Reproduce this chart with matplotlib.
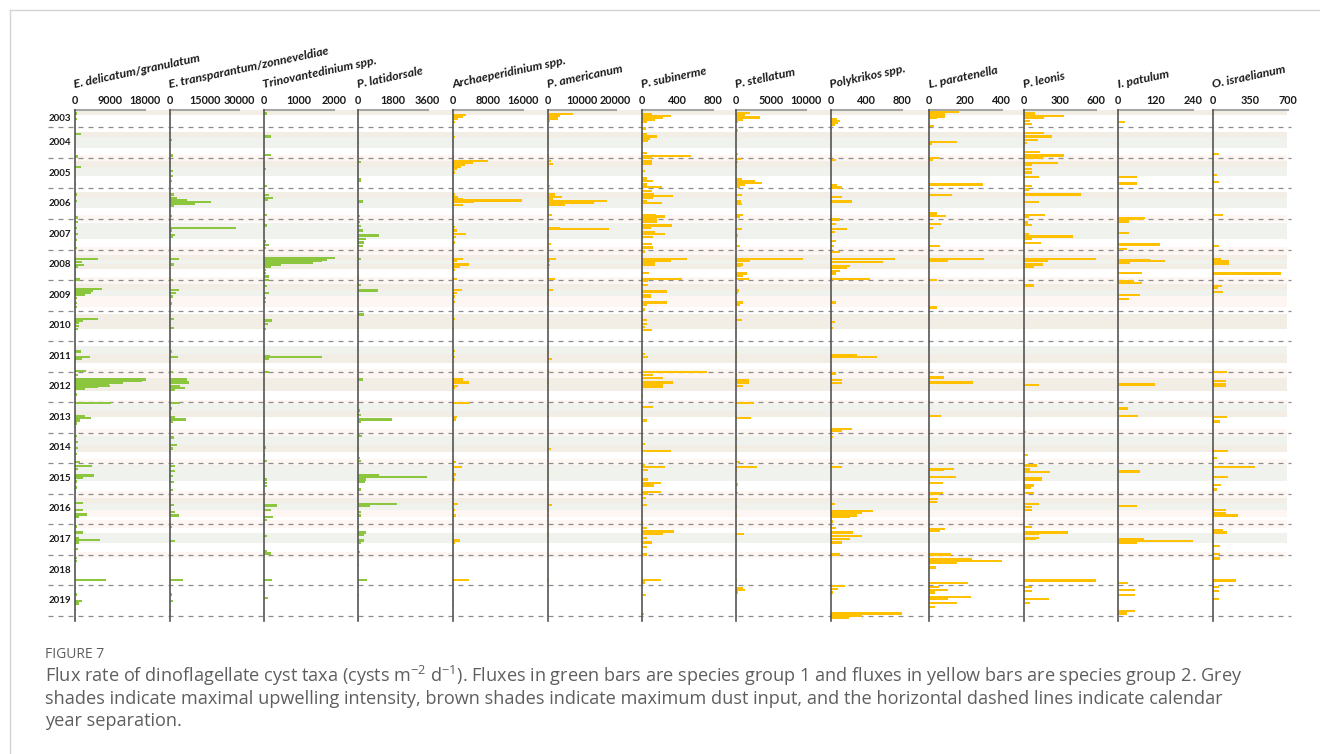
import matplotlib
matplotlib.use("Agg")
import matplotlib.pyplot as plt
from matplotlib.lines import Line2D

plt.rcParams['font.family'] = ['Lato', 'DejaVu Sans']
plt.rcParams['mathtext.fontset'] = 'custom'
plt.rcParams['mathtext.rm'] = 'Open Sans'
plt.rcParams['mathtext.default'] = 'regular'

# ---- data (decimal year, flux) ----
taxa = ["E. delicatum/granulatum", "E. transparantum/zonneveldiae", "Trinovantedinium spp.",
        "P. latidorsale", "Archaeperidinium spp.", "P. americanum", "P. subinerme",
        "P. stellatum", "Polykrikos spp.", "L. paratenella", "P. leonis", "I. patulum",
        "O. israelianum"]
xmax = [18000, 30000, 2000, 3600, 16000, 20000, 800, 10000, 800, 400, 600, 240, 700]
group = [1, 1, 1, 1, 2, 2, 2, 2, 2, 2, 2, 2, 2]

edel = [(2003.54, 500), (2003.72, 400), (2004.21, 1450), (2004.95, 850), (2005.29, 1450), (2005.6, 300),
        (2005.85, 300), (2006.2, 600), (2006.42, 400), (2006.95, 850), (2007.1, 700), (2007.3, 600),
        (2007.5, 700), (2007.7, 500), (2007.95, 600), (2008.3, 6000), (2008.4, 1700), (2008.5, 2300),
        (2008.58, 800), (2008.8, 300), (2008.98, 1300), (2009.3, 7000), (2009.37, 4700), (2009.43, 4000),
        (2009.48, 2600), (2009.6, 600), (2009.75, 500), (2009.88, 400), (2010.27, 5800), (2010.33, 2100),
        (2010.4, 1000), (2010.5, 900), (2010.6, 800), (2011.34, 1450), (2011.51, 3900), (2011.59, 1700),
        (2011.98, 2800), (2012.12, 700), (2012.26, 18250), (2012.31, 17100), (2012.36, 12400),
        (2012.41, 8800), (2012.46, 9000), (2012.51, 6000), (2012.56, 2600), (2012.75, 400),
        (2013.04, 9200), (2013.45, 2600), (2013.51, 4000), (2013.6, 1200), (2013.7, 600), (2014.1, 500),
        (2014.3, 700), (2014.5, 800), (2014.7, 500), (2014.96, 1300), (2015.1, 4300), (2015.2, 800),
        (2015.4, 4900), (2015.47, 2100), (2015.6, 500), (2015.8, 500), (2016.31, 2100), (2016.54, 2100),
        (2016.68, 3200), (2016.76, 900), (2017.07, 500), (2017.27, 2000), (2017.44, 1000),
        (2017.52, 6300), (2017.6, 1100), (2017.82, 700), (2018.1, 500), (2018.2, 400), (2018.83, 8000),
        (2019.1, 300), (2019.3, 400), (2019.51, 1700), (2019.6, 900), (2019.8, 300), (2020.1, 300)]

etra = [(2003.54, 600), (2004.41, 900), (2004.92, 1200), (2005.42, 1500), (2005.59, 1500), (2005.75, 1000),
        (2006.2, 1600), (2006.31, 3000), (2006.37, 7400), (2006.45, 17900), (2006.52, 11000),
        (2006.56, 1600), (2006.9, 800), (2007.3, 28500), (2007.38, 900), (2007.52, 2300), (2007.6, 1300),
        (2008.3, 3900), (2008.49, 1900), (2008.99, 1200), (2009.32, 3900), (2009.43, 2500),
        (2009.54, 1500), (2009.77, 1000), (2010.27, 1600), (2010.57, 1600), (2011.34, 1000),
        (2011.51, 3300), (2012.02, 1300), (2012.26, 7400), (2012.36, 8200), (2012.48, 4500),
        (2012.53, 6400), (2012.59, 2000), (2013.04, 4500), (2013.21, 900), (2013.49, 2300),
        (2013.57, 7100), (2013.66, 1500), (2014.16, 1900), (2014.41, 3000), (2014.52, 1500),
        (2015.1, 2200), (2015.26, 2200), (2015.42, 1300), (2015.62, 1900), (2015.88, 1500),
        (2016.37, 1900), (2016.6, 2300), (2016.71, 3800), (2017.1, 700), (2017.55, 2300), (2017.9, 600),
        (2018.83, 5700), (2019.3, 1000), (2019.51, 1200), (2019.8, 600)]

trin = [(2003.54, 95), (2004.3, 190), (2004.81, 40), (2004.9, 190), (2005.37, 60), (2005.92, 75),
        (2006.22, 140), (2006.31, 245), (2006.37, 120), (2006.88, 95), (2007.21, 75), (2007.74, 60),
        (2007.86, 150), (2007.96, 60), (2008.28, 2020), (2008.33, 1800), (2008.38, 1650), (2008.44, 1400),
        (2008.5, 480), (2008.56, 200), (2008.66, 60), (2008.77, 60), (2008.88, 150), (2008.99, 130),
        (2009.19, 80), (2009.43, 150), (2009.6, 50), (2009.71, 50), (2010.33, 220), (2010.43, 100),
        (2010.6, 50), (2011.48, 170), (2011.53, 1650), (2011.59, 130), (2012.02, 140), (2014.04, 30),
        (2014.49, 60), (2014.74, 40), (2014.93, 80), (2015.53, 95), (2015.64, 80), (2015.75, 80),
        (2016.02, 50), (2016.39, 380), (2016.54, 190), (2016.77, 245), (2016.85, 80), (2017.39, 80),
        (2017.88, 95), (2017.96, 190), (2018.83, 230), (2019.24, 40), (2019.42, 120)]

plat = [(2004.52, 35), (2005.14, 170), (2005.7, 140), (2005.76, 140), (2006.43, 260), (2006.9, 80),
        (2007.1, 120), (2007.23, 170), (2007.38, 250), (2007.54, 1090), (2007.66, 430), (2007.77, 300),
        (2007.88, 260), (2008.32, 170), (2008.47, 50), (2008.88, 50), (2008.99, 50), (2009.16, 170),
        (2009.34, 1040), (2009.6, 50), (2010.04, 50), (2010.13, 290), (2012.26, 260), (2013.27, 80),
        (2013.43, 170), (2013.57, 1780), (2013.66, 170), (2014.04, 80), (2014.1, 200), (2014.52, 50),
        (2014.82, 80), (2014.93, 140), (2015.38, 1090), (2015.45, 3580), (2015.53, 430), (2015.62, 350),
        (2015.86, 170), (2016.33, 2040), (2016.4, 640), (2016.6, 170), (2016.71, 170), (2017.09, 50),
        (2017.27, 400), (2017.35, 310), (2017.53, 290), (2017.6, 170), (2017.9, 80), (2018.34, 50),
        (2018.83, 470), (2019.32, 50), (2020.1, 50)]

arch = [(2003.6, 3050), (2003.66, 2400), (2003.71, 1300), (2003.82, 500), (2004.32, 530), (2004.48, 300),
        (2004.95, 300), (2005.09, 8000), (2005.16, 4700), (2005.22, 2800), (2005.29, 1800), (2005.37, 900),
        (2005.48, 500), (2005.75, 300), (2006.2, 500), (2006.28, 1300), (2006.34, 2300), (2006.39, 15900),
        (2006.45, 4900), (2006.54, 2300), (2006.93, 300), (2007.27, 500), (2007.38, 900), (2007.5, 3050),
        (2007.58, 700), (2007.77, 500), (2008.3, 2400), (2008.38, 900), (2008.49, 3700), (2008.58, 1700),
        (2008.66, 500), (2008.97, 1070), (2009.32, 2050), (2009.43, 900), (2009.54, 500), (2009.71, 500),
        (2010.27, 450), (2010.6, 300), (2011.32, 450), (2011.53, 450), (2012.26, 2300), (2012.36, 3700),
        (2012.48, 1100), (2012.53, 500), (2013.04, 3950), (2013.49, 920), (2013.57, 800), (2014.38, 300),
        (2014.54, 300), (2014.96, 700), (2015.12, 2050), (2015.37, 700), (2015.53, 500), (2016.34, 1300),
        (2016.54, 500), (2016.71, 700), (2017.53, 1680), (2017.6, 500), (2018.83, 3800), (2019.41, 300),
        (2019.51, 300), (2019.67, 200)]

pame = [(2003.57, 7350), (2003.63, 3600), (2003.71, 3100), (2003.79, 700), (2004.32, 300), (2004.54, 300),
        (2004.92, 400), (2005.09, 880), (2005.2, 1650), (2005.31, 500), (2005.64, 300), (2005.92, 600),
        (2006.2, 2150), (2006.27, 4100), (2006.34, 1600), (2006.4, 17500), (2006.47, 13600),
        (2006.54, 5100), (2006.88, 1200), (2007.3, 3600), (2007.33, 18000), (2007.54, 500), (2007.82, 900),
        (2007.96, 500), (2008.3, 2450), (2008.38, 700), (2008.51, 700), (2008.97, 2000), (2009.32, 1500),
        (2009.49, 500), (2009.77, 300), (2011.37, 500), (2011.59, 1200), (2012.02, 700), (2012.36, 300),
        (2013.16, 300), (2013.49, 400), (2014.54, 900), (2015.37, 500), (2015.75, 500), (2016.37, 1200),
        (2016.54, 500), (2016.71, 500), (2017.3, 500), (2018.83, 500)]

psub = [(2003.57, 113), (2003.63, 327), (2003.68, 244), (2003.74, 150), (2003.82, 56), (2004.04, 49),
        (2004.21, 60), (2004.3, 177), (2004.37, 90), (2004.43, 75), (2004.85, 60), (2004.93, 553),
        (2005.0, 113), (2005.09, 113), (2005.18, 113), (2005.42, 38), (2005.67, 60), (2005.76, 124),
        (2005.87, 60), (2005.96, 233), (2006.09, 113), (2006.18, 140), (2006.24, 357), (2006.31, 130),
        (2006.4, 60), (2006.48, 233), (2006.87, 162), (2006.92, 263), (2006.99, 177), (2007.08, 170),
        (2007.21, 338), (2007.3, 100), (2007.43, 150), (2007.49, 267), (2007.6, 132), (2007.82, 113),
        (2007.93, 132), (2008.07, 38), (2008.3, 508), (2008.38, 327), (2008.43, 150), (2008.51, 150),
        (2008.77, 86), (2008.97, 451), (2009.04, 75), (2009.16, 75), (2009.38, 282), (2009.49, 100),
        (2009.54, 100), (2009.74, 282), (2009.82, 60), (2009.97, 38), (2010.32, 60), (2010.43, 60),
        (2010.54, 38), (2010.63, 113), (2011.42, 38), (2011.53, 75), (2012.02, 733), (2012.1, 132),
        (2012.22, 237), (2012.36, 357), (2012.42, 237), (2012.51, 237), (2012.82, 15), (2013.16, 124),
        (2013.6, 64), (2014.38, 38), (2014.6, 327), (2015.08, 38), (2015.12, 263), (2015.23, 75),
        (2015.53, 75), (2015.66, 215), (2015.73, 140), (2015.95, 215), (2016.02, 75), (2016.14, 50),
        (2016.37, 64), (2016.94, 20), (2017.13, 64), (2017.24, 365), (2017.3, 244), (2017.44, 64),
        (2017.6, 120), (2017.75, 64), (2017.99, 64), (2018.83, 215), (2018.91, 38), (2019.32, 50),
        (2019.95, 25)]

pste = [(2003.52, 2000), (2003.6, 1300), (2003.68, 3400), (2003.74, 1050), (2003.82, 300), (2004.1, 250),
        (2004.37, 200), (2004.87, 300), (2005.03, 650), (2005.14, 300), (2005.31, 200), (2005.7, 900),
        (2005.76, 2700), (2005.81, 3650), (2005.87, 1300), (2005.96, 600), (2006.22, 900), (2006.43, 750),
        (2006.52, 800), (2006.88, 1050), (2006.93, 600), (2007.32, 850), (2007.54, 300), (2007.71, 200),
        (2007.88, 600), (2008.3, 9500), (2008.38, 2000), (2008.49, 1050), (2008.54, 650), (2008.79, 1500),
        (2008.86, 1050), (2008.97, 1850), (2009.34, 400), (2009.43, 350), (2009.74, 1050), (2009.82, 600),
        (2010.3, 900), (2011.37, 200), (2011.53, 200), (2012.1, 200), (2012.28, 1850), (2012.36, 1900),
        (2012.48, 1050), (2013.04, 2600), (2013.52, 2100), (2014.21, 200), (2014.49, 200), (2014.96, 600),
        (2015.12, 2950), (2015.26, 200), (2015.7, 300), (2015.97, 300), (2016.43, 200), (2016.71, 200),
        (2017.05, 200), (2017.31, 1150), (2017.55, 200), (2018.83, 200), (2019.08, 1050), (2019.15, 1300),
        (2019.24, 300), (2020.0, 200)]

poly = [(2003.72, 75), (2003.79, 105), (2003.86, 85), (2003.93, 50), (2004.04, 20), (2005.07, 60),
        (2005.88, 66), (2005.97, 122), (2006.27, 122), (2006.43, 235), (2006.99, 110), (2007.04, 110),
        (2007.16, 60), (2007.32, 180), (2007.43, 50), (2007.54, 20), (2007.71, 60), (2007.88, 40),
        (2008.08, 110), (2008.32, 725), (2008.41, 590), (2008.54, 220), (2008.6, 180), (2008.71, 110),
        (2008.79, 60), (2008.97, 443), (2009.04, 20), (2009.6, 10), (2009.74, 60), (2010.27, 20),
        (2010.38, 50), (2010.57, 25), (2011.46, 300), (2011.52, 520), (2012.06, 60), (2012.28, 122),
        (2012.37, 122), (2013.88, 235), (2013.95, 122), (2014.15, 30), (2014.8, 20), (2015.12, 130),
        (2016.33, 50), (2016.56, 473), (2016.63, 355), (2016.71, 300), (2016.77, 220), (2016.91, 30),
        (2017.13, 60), (2017.27, 250), (2017.38, 355), (2017.49, 220), (2017.6, 122), (2017.99, 110),
        (2019.02, 160), (2019.13, 80), (2019.24, 30), (2019.92, 800), (2019.99, 355), (2020.07, 205)]

lpar = [(2003.5, 166), (2003.58, 87), (2003.64, 87), (2003.7, 40), (2003.96, 26), (2004.48, 155),
        (2004.54, 15), (2005.0, 59), (2005.07, 20), (2005.87, 295), (2006.22, 123), (2006.82, 44),
        (2006.9, 90), (2007.16, 63), (2007.3, 20), (2007.88, 57), (2008.32, 302), (2008.38, 105),
        (2009.01, 40), (2009.9, 40), (2012.19, 83), (2012.36, 240), (2013.46, 65), (2015.18, 138),
        (2015.23, 80), (2015.45, 146), (2015.66, 74), (2015.97, 74), (2016.02, 59), (2016.17, 50),
        (2016.28, 44), (2017.16, 87), (2017.22, 59), (2017.99, 118), (2018.15, 234), (2018.21, 400),
        (2018.26, 155), (2018.42, 35), (2018.92, 212), (2019.05, 55), (2019.16, 105), (2019.24, 30),
        (2019.38, 228), (2019.46, 105), (2019.57, 155), (2019.71, 31)]

pleo = [(2003.54, 92), (2003.62, 333), (2003.69, 170), (2003.79, 50), (2003.88, 70), (2004.19, 170),
        (2004.3, 236), (2004.41, 114), (2004.52, 28), (2004.81, 133), (2004.92, 336), (2005.0, 161),
        (2005.17, 281), (2005.23, 64), (2005.37, 64), (2005.48, 64), (2005.62, 125), (2005.92, 64),
        (2006.03, 40), (2006.2, 473), (2006.45, 125), (2006.88, 175), (2006.93, 40), (2007.12, 30),
        (2007.19, 64), (2007.49, 40), (2007.57, 406), (2007.66, 70), (2007.79, 139), (2008.32, 600),
        (2008.38, 203), (2008.49, 156), (2008.58, 83), (2009.18, 83), (2012.45, 125), (2013.97, 20),
        (2014.74, 30), (2015.08, 106), (2015.21, 50), (2015.28, 217), (2015.48, 147), (2015.53, 147),
        (2015.73, 80), (2015.8, 60), (2015.97, 80), (2016.34, 125), (2016.43, 64), (2016.54, 64),
        (2017.09, 64), (2017.27, 364), (2017.33, 128), (2017.44, 128), (2017.49, 100), (2018.84, 600),
        (2019.05, 64), (2019.18, 64), (2019.46, 211), (2019.57, 50)]

ipat = [(2003.82, 23), (2004.54, 3), (2005.62, 61), (2005.84, 61), (2006.97, 87), (2007.01, 80),
        (2007.08, 35), (2007.47, 35), (2007.84, 135), (2007.99, 29), (2008.34, 101), (2008.38, 150),
        (2008.45, 39), (2008.77, 77), (2009.04, 50), (2009.1, 77), (2009.49, 71), (2009.63, 35),
        (2012.42, 119), (2013.21, 32), (2013.46, 62), (2015.27, 71), (2016.4, 61), (2017.49, 82),
        (2017.55, 240), (2017.6, 61), (2018.92, 32), (2019.16, 53), (2019.32, 53), (2019.84, 53),
        (2019.92, 27)]

oisr = [(2004.54, 6), (2004.87, 62), (2005.56, 37), (2005.79, 62), (2006.88, 93), (2007.88, 62),
        (2008.3, 75), (2008.38, 156), (2008.46, 156), (2008.77, 302), (2008.79, 634), (2009.19, 84),
        (2009.27, 53), (2009.4, 100), (2012.02, 130), (2012.31, 124), (2012.4, 124), (2012.48, 124),
        (2013.49, 130), (2013.63, 68), (2014.6, 140), (2014.82, 44), (2015.13, 395), (2015.46, 146),
        (2015.71, 75), (2015.86, 40), (2016.54, 124), (2016.63, 124), (2016.71, 240), (2017.2, 93),
        (2017.27, 130), (2017.71, 68), (2017.97, 68), (2018.12, 68), (2018.84, 218), (2019.05, 59),
        (2019.18, 59), (2019.46, 59)]

series = [edel, etra, trin, plat, arch, pame, psub, pste, poly, lpar, pleo, ipat, oisr]

# shaded periods (start, end) in decimal years
upwelling = [(2004.31, 2004.67), (2005.30, 2005.60), (2006.32, 2006.65), (2007.14, 2007.67),
             (2008.35, 2008.48), (2009.34, 2009.51), (2011.16, 2011.42), (2013.07, 2013.28),
             (2014.12, 2014.42), (2015.05, 2015.58), (2016.31, 2016.54), (2017.29, 2017.62)]
dust = [(2003.43, 2003.61), (2004.14, 2004.31), (2005.11, 2005.30), (2006.12, 2006.32),
        (2008.19, 2008.35), (2008.48, 2008.65), (2009.12, 2009.34), (2010.10, 2010.59),
        (2011.42, 2011.72), (2012.22, 2012.64), (2013.28, 2013.50), (2014.42, 2014.65),
        (2016.15, 2016.31)]
dust_weak = [(2004.91, 2005.11), (2006.88, 2007.11), (2007.92, 2008.19), (2008.89, 2009.12),
             (2009.51, 2009.87), (2011.92, 2012.22), (2012.94, 2013.07), (2013.87, 2014.12),
             (2014.87, 2015.05), (2015.92, 2016.15), (2016.54, 2016.77), (2016.87, 2017.13),
             (2017.90, 2018.10)]
years = list(range(2003, 2020))

# ---- layout ----
W, H = 1320, 754
fig = plt.figure(figsize=(W / 100, H / 100), dpi=100)

top_px, bot_px = 110, 621
y_top, y_bot = 2003.43, 2020.17
ax_b = 1 - bot_px / H
ax_h = (bot_px - top_px) / H

green = '#8cc63f'
yellow = '#ffc000'
txt = '#1a1a1a'

# background: shading, dashed year lines, year labels
bg = fig.add_axes([0, ax_b, 1, ax_h])
bg.set_xlim(0, W)
bg.set_ylim(y_bot, y_top)
bg.axis('off')
for periods, col in [(upwelling, '#f0f2ee'), (dust, '#f3eee5'), (dust_weak, '#fdf6f2')]:
    for a, b in periods:
        bg.barh((a + b) / 2, 1287 - 75, left=75, height=b - a, color=col, lw=0, zorder=1)
bg.hlines(range(2004, 2021), 48, 1291, colors='#8c8c8c', linestyles=(0, (4, 4)), lw=0.9, zorder=2)
for yr in years:
    ypos = 2003.72 if yr == 2003 else yr + 0.5
    bg.text(71, ypos, str(yr), ha='right', va='center', fontsize=7, fontweight='bold', color=txt)

x0s = [75, 170, 264, 358, 452.7, 547.7, 641.7, 736, 830.7, 929.3, 1024, 1118.3, 1212.7]
widths = [70, 69, 70, 69.5, 70, 68, 71, 70, 71, 72.3, 72, 75, 75]

for i, name in enumerate(taxa):
    ax = fig.add_axes([x0s[i] / W, ax_b, widths[i] / W, ax_h])
    ax.patch.set_visible(False)
    ax.set_xlim(0, xmax[i])
    ax.set_ylim(y_bot, y_top)
    t = [p[0] for p in series[i]]
    v = [p[1] for p in series[i]]
    col = green if group[i] == 1 else yellow
    bars = ax.barh(t, v, height=0.075, color=col, lw=0, zorder=3)
    for b in bars:
        b.set_clip_on(False)
    for s in ['right', 'bottom']:
        ax.spines[s].set_visible(False)
    ax.spines['left'].set_color('#555555')
    ax.spines['left'].set_linewidth(1.2)
    ax.spines['left'].set_zorder(4)
    ax.spines['top'].set_color('#a6a6a6')
    ax.spines['top'].set_linewidth(1.5)
    ax.xaxis.tick_top()
    ax.set_xticks([0, xmax[i] / 2, xmax[i]])
    ax.set_xticklabels([f"{int(x)}" for x in [0, xmax[i] / 2, xmax[i]]])
    ax.tick_params(axis='x', length=0, pad=3, labelsize=7.8, labelcolor=txt)
    for lab in ax.get_xticklabels():
        lab.set_fontweight('bold')
    ax.set_yticks([])
    fig.text(x0s[i] / W, 1 - 88 / H, name, rotation=12, rotation_mode='anchor',
             ha='left', va='baseline', fontsize=8.8, fontweight='bold', fontstyle='italic', color=txt)

# frame lines
fig.add_artist(Line2D([10 / W, 10 / W], [0, 1 - 10 / H], color='#d4d4d4', lw=1))
fig.add_artist(Line2D([10 / W, 1], [1 - 10 / H, 1 - 10 / H], color='#d4d4d4', lw=1))

# caption
cap = '#5e5e5e'
fig.text(45 / W, 1 - 655 / H, "FIGURE 7", fontsize=10, color=cap, va='center', family='Open Sans')
lines = ["Flux rate of dinoflagellate cyst taxa (cysts m$^{-2}$ d$^{-1}$). Fluxes in green bars are species "
         "group 1 and fluxes in yellow bars are species group 2. Grey",
         "shades indicate maximal upwelling intensity, brown shades indicate maximum dust input, and the "
         "horizontal dashed lines indicate calendar",
         "year separation."]
for k, line in enumerate(lines):
    fig.text(45 / W, 1 - (676 + 22.5 * k) / H, line, fontsize=13.1, color=cap, va='center',
             family='Open Sans')

fig.savefig("out.png", dpi=100)
